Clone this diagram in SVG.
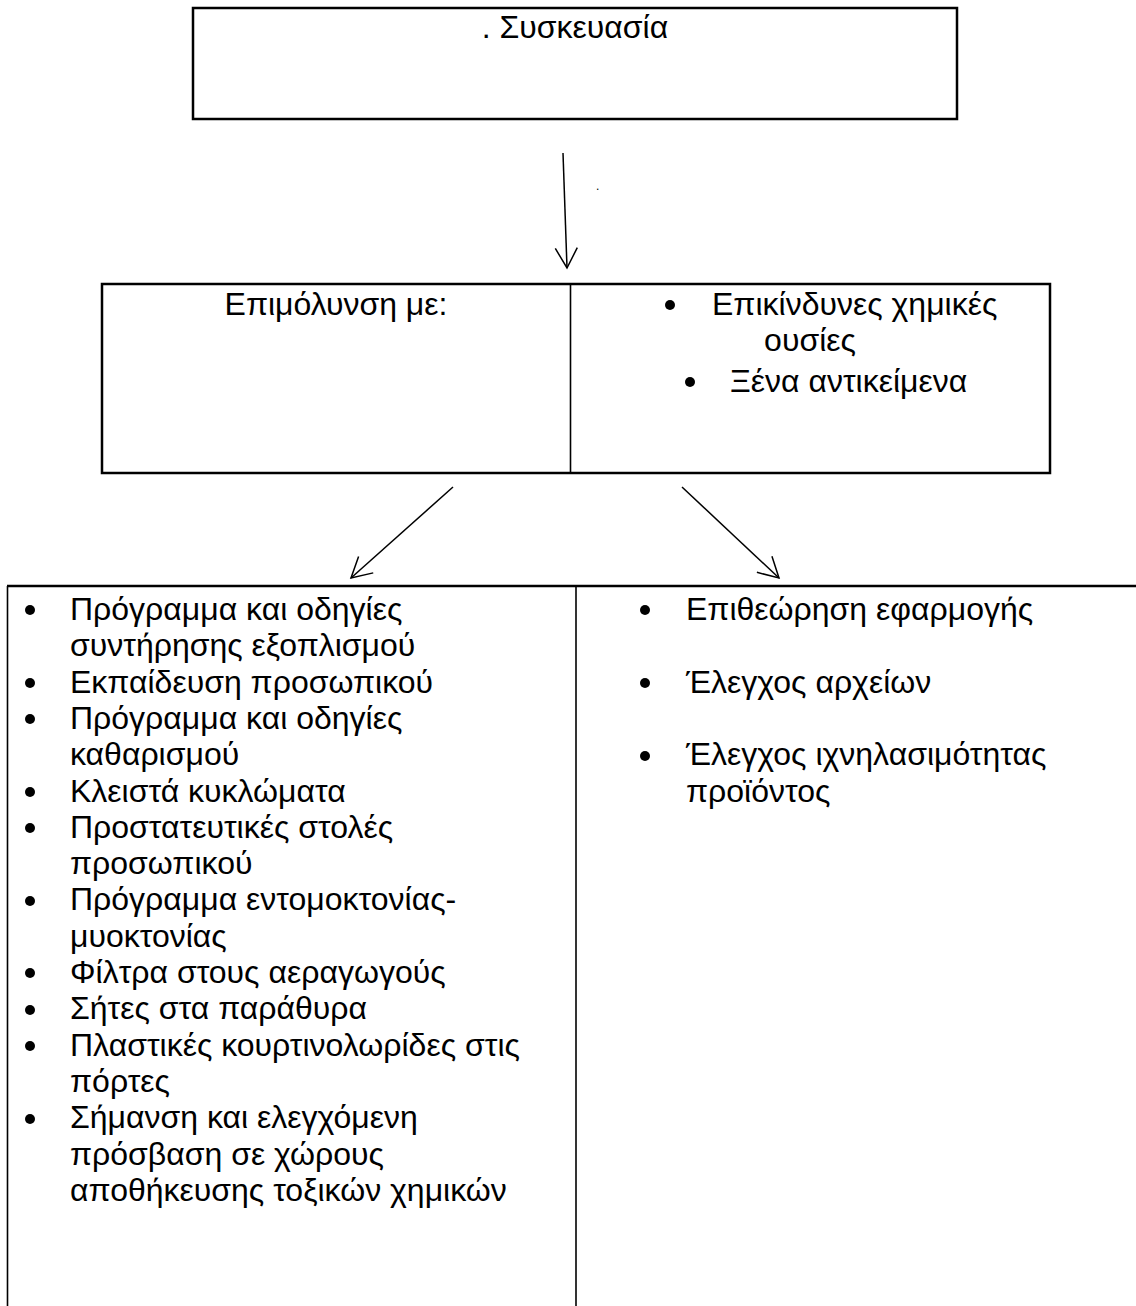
<svg xmlns="http://www.w3.org/2000/svg" width="1136" height="1306" viewBox="0 0 1136 1306">
  <style>
    text { font-family: "Liberation Sans", Arial, sans-serif; font-size: 32px; fill: #000; }
    .box { fill: none; stroke: #000; stroke-width: 2.5; }
    .div { stroke: #000; stroke-width: 1.6; }
    .conn { stroke: #000; stroke-width: 1.5; fill: none; }
    .mid { text-anchor: middle; }
  </style>
  <defs>
    <marker id="open" viewBox="0 0 24 24" refX="22" refY="12" markerWidth="24" markerHeight="24" markerUnits="userSpaceOnUse" orient="auto">
      <path d="M2,1 L22,12 L2,23" fill="none" stroke="#000" stroke-width="1.5"/>
    </marker>
  </defs>
  <rect width="1136" height="1306" fill="#fff"/>

  <g id="packaging">
    <rect class="box" x="193" y="8" width="764" height="111"/>
    <text class="mid" x="575" y="38">. Συσκευασία</text>
  </g>

  <g id="contamination">
    <rect class="box" x="102" y="284" width="948" height="189"/>
    <line class="div" x1="570.5" y1="284" x2="570.5" y2="473"/>
    <text class="mid" x="336" y="315">Επιμόλυνση με:</text>
    <circle cx="670" cy="305" r="5"/>
    <text x="712" y="315">Επικίνδυνες χημικές</text>
    <text class="mid" x="810" y="351">ουσίες</text>
    <circle cx="690" cy="382" r="5"/>
    <text x="730" y="392">Ξένα αντικείμενα</text>
  </g>

  <g id="measures">
    <line class="div" x1="7" y1="586" x2="1136" y2="586" style="stroke-width:2.5"/>
    <line class="div" x1="7.5" y1="586" x2="7.5" y2="1306"/>
    <line class="div" x1="576" y1="586" x2="576" y2="1306"/>
    <g>
      <circle cx="30" cy="610" r="5"/>
      <text x="70" y="620">Πρόγραμμα και οδηγίες</text>
      <text x="70" y="656.3">συντήρησης εξοπλισμού</text>
      <circle cx="30" cy="683" r="5"/>
      <text x="70" y="692.6">Εκπαίδευση προσωπικού</text>
      <circle cx="30" cy="719" r="5"/>
      <text x="70" y="728.9">Πρόγραμμα και οδηγίες</text>
      <text x="70" y="765.2">καθαρισμού</text>
      <circle cx="30" cy="792" r="5"/>
      <text x="70" y="801.5">Κλειστά κυκλώματα</text>
      <circle cx="30" cy="828" r="5"/>
      <text x="70" y="837.8">Προστατευτικές στολές</text>
      <text x="70" y="874.1">προσωπικού</text>
      <circle cx="30" cy="901" r="5"/>
      <text x="70" y="910.4">Πρόγραμμα εντομοκτονίας-</text>
      <text x="70" y="946.7">μυοκτονίας</text>
      <circle cx="30" cy="973" r="5"/>
      <text x="70" y="983">Φίλτρα στους αεραγωγούς</text>
      <circle cx="30" cy="1010" r="5"/>
      <text x="70" y="1019.3">Σήτες στα παράθυρα</text>
      <circle cx="30" cy="1046" r="5"/>
      <text x="70" y="1055.6">Πλαστικές κουρτινολωρίδες στις</text>
      <text x="70" y="1091.9">πόρτες</text>
      <circle cx="30" cy="1119" r="5"/>
      <text x="70" y="1128.2">Σήμανση και ελεγχόμενη</text>
      <text x="70" y="1164.5">πρόσβαση σε χώρους</text>
      <text x="70" y="1200.8">αποθήκευσης τοξικών χημικών</text>
    </g>
    <g>
      <circle cx="645" cy="610" r="5"/>
      <text x="686" y="620">Επιθεώρηση εφαρμογής</text>
      <circle cx="645" cy="683" r="5"/>
      <text x="686" y="692.6">Έλεγχος αρχείων</text>
      <circle cx="645" cy="756" r="5"/>
      <text x="686" y="765.2">Έλεγχος ιχνηλασιμότητας</text>
      <text x="686" y="801.5">προϊόντος</text>
    </g>
  </g>

  <g id="connectors">
    <line class="conn" x1="563" y1="153" x2="567" y2="268" marker-end="url(#open)"/>
    <text x="596" y="190" style="font-size:12px">.</text>
    <line class="conn" x1="453" y1="487" x2="351" y2="578" marker-end="url(#open)"/>
    <line class="conn" x1="682" y1="487" x2="779" y2="578" marker-end="url(#open)"/>
  </g>
</svg>
